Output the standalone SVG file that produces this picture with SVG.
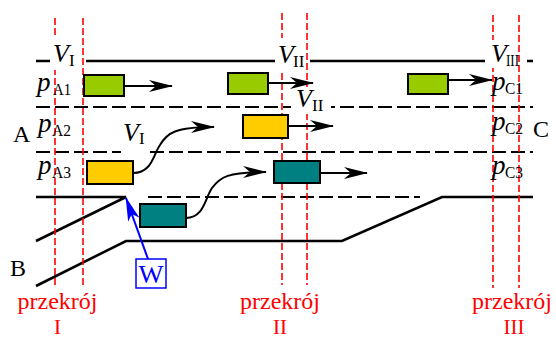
<svg xmlns="http://www.w3.org/2000/svg" width="556" height="339" viewBox="0 0 556 339">
<style>
.ln{stroke:#000;stroke-width:2.6;fill:none}
.dl{stroke:#000;stroke-width:2;stroke-dasharray:14,5;fill:none}
.rd{stroke:#f00;stroke-width:1.6;stroke-dasharray:7,3;fill:none}
.ar{stroke:#000;stroke-width:2;fill:none;marker-end:url(#ah)}
.bx{stroke:#000;stroke-width:2}
.g{fill:#99cc00}.y{fill:#ffcc00}.t{fill:#008080}
.it{font-family:"Liberation Serif",serif;font-style:italic;font-size:26px;fill:#000}
.pp{font-family:"Liberation Serif",serif;font-style:italic;font-size:27px;fill:#000}
.sub{font-family:"Liberation Serif",serif;font-size:17px;fill:#000}
.lb{font-family:"Liberation Serif",serif;font-size:24px;fill:#000}
.rt{font-family:"Liberation Serif",serif;font-size:24px;fill:#f00;text-anchor:middle}
.rn{font-family:"Liberation Serif",serif;font-size:21px;fill:#f00;text-anchor:middle}
.wb{fill:#fff;stroke:none}
</style>
<defs>
<marker id="ah" markerUnits="userSpaceOnUse" viewBox="0 0 24 12" refX="23" refY="6" markerWidth="24" markerHeight="12" orient="auto"><path d="M0,0 L24,6 L0,12 L7,6 z" fill="#000"/></marker>
<marker id="bh" markerUnits="userSpaceOnUse" viewBox="0 0 24 12" refX="23" refY="6" markerWidth="24" markerHeight="12" orient="auto"><path d="M0,0 L24,6 L0,12 L6,6 z" fill="#00f"/></marker>
</defs>
<g id="lanes">
<path class="ln" d="M36,61H50M86,61H275M310,61H485M527,61H533"/>
<path class="dl" d="M36,107H533M36,152H533M148,197H420"/>
<path class="ln" d="M36,197H126L36,241"/>
<path class="ln" d="M36,286L126,241H342L442,197H533"/>
</g>
<g id="sections">
<path class="rd" d="M55,18V288M83,18V288M282,13V285M307,13V285M493,15V288M519,15V288"/>
<text class="rt" x="57.5" y="309">przekrój</text>
<text class="rn" x="57.5" y="334">I</text>
<text class="rt" x="280" y="309">przekrój</text>
<text class="rn" x="280" y="334">II</text>
<text class="rt" x="512" y="309">przekrój</text>
<text class="rn" x="514" y="334">III</text>
</g>
<g id="speed-labels">
<rect class="wb" x="51" y="38" width="28" height="32"/>
<text class="it" x="53" y="62">V</text><text class="sub" x="69" y="66">I</text>
<rect class="wb" x="277" y="38" width="28" height="35"/>
<text class="it" x="278" y="63">V</text><text class="sub" x="293" y="67">II</text>
<rect class="wb" x="489" y="40" width="29" height="28"/>
<text class="it" x="491" y="62">V</text><text class="sub" x="506" y="66" textLength="13" lengthAdjust="spacingAndGlyphs">III</text>
<rect class="wb" x="291" y="87" width="40" height="27"/>
<text class="it" x="296" y="107">V</text><text class="sub" x="312" y="111">II</text>
<rect class="wb" x="121" y="123" width="26" height="32"/>
<text class="it" x="123" y="141">V</text><text class="sub" x="139" y="144">I</text>
</g>
<g id="lane-labels">
<text class="lb" x="13" y="142">A</text>
<text class="lb" x="10" y="276">B</text>
<text class="lb" x="533" y="137">C</text>
<text class="pp" x="37" y="91">p</text><text class="sub" x="53" y="95" textLength="18" lengthAdjust="spacingAndGlyphs">A1</text>
<text class="pp" x="38" y="132">p</text><text class="sub" x="52" y="136" textLength="19" lengthAdjust="spacingAndGlyphs">A2</text>
<text class="pp" x="38" y="174">p</text><text class="sub" x="52" y="178" textLength="19" lengthAdjust="spacingAndGlyphs">A3</text>
<text class="pp" x="492" y="90">p</text><text class="sub" x="505" y="94" textLength="18" lengthAdjust="spacingAndGlyphs">C1</text>
<text class="pp" x="492" y="130">p</text><text class="sub" x="505" y="134" textLength="18" lengthAdjust="spacingAndGlyphs">C2</text>
<text class="pp" x="492" y="174">p</text><text class="sub" x="505" y="178" textLength="18" lengthAdjust="spacingAndGlyphs">C3</text>
</g>
<g id="vehicles">
<rect id="green1" class="bx g" x="84" y="75" width="40" height="21"/>
<rect id="green2" class="bx g" x="228" y="73" width="40" height="21"/>
<rect id="green3" class="bx g" x="408" y="74" width="40" height="20"/>
<rect id="yellow1" class="bx y" x="243" y="115" width="45" height="23"/>
<rect id="yellow2" class="bx y" x="87" y="161" width="46" height="23"/>
<rect id="teal1" class="bx t" x="140" y="204" width="46" height="23"/>
<rect id="teal2" class="bx t" x="274" y="161" width="46" height="22"/>
</g>
<g id="connectors">
<path class="ar" d="M124,86H172"/>
<path class="ar" d="M268,83H313"/>
<path class="ar" d="M448,80H492"/>
<path class="ar" d="M288,126H333"/>
<path class="ar" d="M320,173H367"/>
<path class="ar" d="M133,173C152,173 153,155 160,145C167,133 175,127 214,127"/>
<path class="ar" d="M186,218C204,218 205,198 212,188C220,177 228,172 266,172"/>
<path d="M148,259L126,198" stroke="#00f" stroke-width="2" fill="none" marker-end="url(#bh)"/>
</g>
<g id="W">
<rect x="136" y="259" width="30" height="29" fill="#fff" stroke="#00f" stroke-width="1.5"/>
<text x="151" y="283" font-family="Liberation Serif, serif" font-size="26" fill="#00f" text-anchor="middle" textLength="25" lengthAdjust="spacingAndGlyphs">W</text>
</g>
</svg>
